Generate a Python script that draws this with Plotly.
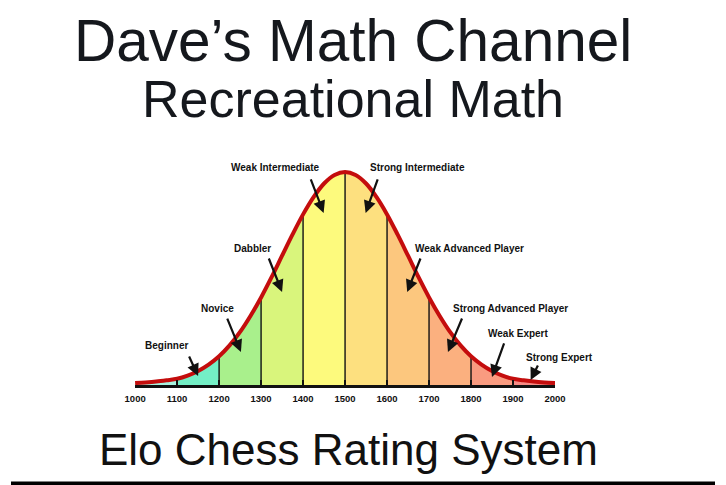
import plotly.graph_objects as go

# ---------------- data ----------------
rating = [1000, 1025, 1050, 1075, 1100, 1125, 1150, 1175, 1200, 1225, 1250, 1275, 1300,
          1325, 1350, 1375, 1400, 1425, 1450, 1475, 1500, 1525, 1550, 1575, 1600, 1625,
          1650, 1675, 1700, 1725, 1750, 1775, 1800, 1825, 1850, 1875, 1900, 1925, 1950,
          1975, 2000]
density = [0.9, 1.2, 1.6, 2.2, 2.9, 4.4, 6.6, 9.6, 13.5, 18.6, 24.9, 32.5, 41.1,
           50.6, 60.7, 70.7, 80.1, 88.2, 94.6, 98.6, 100.0, 98.6, 94.6, 88.2, 80.1, 70.7,
           60.7, 50.6, 41.1, 32.5, 24.9, 18.6, 13.5, 9.6, 6.6, 4.4, 2.9, 2.2, 1.6,
           1.2, 0.9]

band_edges = [1000, 1100, 1200, 1300, 1400, 1500, 1600, 1700, 1800, 1900, 2000]
band_colors = ["#a6f4e0", "#74efc6", "#a9f08c", "#d9f57c", "#fdfa7d", "#fde07f",
               "#fcc77e", "#fbb07f", "#f99b80", "#f68a84"]

labels = ["Beginner", "Novice", "Dabbler", "Weak Intermediate", "Strong Intermediate",
          "Weak Advanced Player", "Strong Advanced Player", "Weak Expert", "Strong Expert"]

tick_values = [1000, 1100, 1200, 1300, 1400, 1500, 1600, 1700, 1800, 1900, 2000]
tick_text = ["1000", "1100", "1200", "1300", "1400", "1500", "1600", "1700", "1800", "1900", "2000"]

title_lines = ["Dave\u2019s Math Channel", "Recreational Math"]
footer = "Elo Chess Rating System"

# ---------------- layout helpers (positions in pixels of the 726x485 canvas) ----------------
label_px = [(160, 345), (213, 308), (249, 249), (273, 167), (419, 167),
            (473, 249), (515, 308), (523, 333), (566, 357)]
arrow_tail = [(1127, 14.1), (1218, 31.9), (1317, 60.1), (1417, 97.2), (1579, 97.2),
              (1681, 60.1), (1780, 31.9), (1880, 20.2), (1961, 9.9)]
arrow_tip = [(1150, 4.2), (1252, 15.5), (1350, 43.7), (1449, 80.8), (1549, 80.8),
             (1648, 43.7), (1745, 15.5), (1850, 3.8), (1942, 2.3)]

W, H = 726, 485
FONT = "Liberation Sans, Arial, sans-serif"

fig = go.Figure()

# coloured bands under the curve
for i in range(len(band_edges) - 1):
    b0, b1 = band_edges[i], band_edges[i + 1]
    xs = [r for r in rating if b0 <= r <= b1]
    ys = [d for r, d in zip(rating, density) if b0 <= r <= b1]
    fig.add_trace(go.Scatter(
        x=[b0] + xs + [b1], y=[0] + ys + [0], mode="lines",
        fill="toself", fillcolor=band_colors[i], line=dict(width=0),
        hoverinfo="skip", showlegend=False))

# dividers
dx, dy = [], []
for b in band_edges[1:-1]:
    h = density[rating.index(b)]
    dx += [b, b, None]
    dy += [0, h, None]
fig.add_trace(go.Scatter(x=dx, y=dy, mode="lines",
                         line=dict(color="#111111", width=1.4),
                         hoverinfo="skip", showlegend=False))

# bell curve
fig.add_trace(go.Scatter(x=rating, y=density, mode="lines",
                         line=dict(color="#c40d0d", width=4, shape="spline"),
                         hoverinfo="skip", showlegend=False))

annotations = []
for txt, (px, py) in zip(labels, label_px):
    annotations.append(dict(x=px / W, y=1 - py / H, xref="paper", yref="paper",
                            text="<b>" + txt + "</b>",
                            showarrow=False, font=dict(family=FONT, size=10, color="#111111"),
                            xanchor="center", yanchor="middle"))
for (tx, ty), (hx, hy) in zip(arrow_tail, arrow_tip):
    annotations.append(dict(x=hx, y=hy, xref="x", yref="y", ax=tx, ay=ty,
                            axref="x", ayref="y", text="", showarrow=True,
                            arrowhead=2, arrowsize=1.1, arrowwidth=2.2,
                            arrowcolor="#111111", standoff=0))

annotations.append(dict(x=353 / W, y=1 - 40 / H, xref="paper", yref="paper",
                        text=title_lines[0], showarrow=False,
                        font=dict(family=FONT, size=58.5, color="#15181d"),
                        xanchor="center", yanchor="middle"))
annotations.append(dict(x=352.5 / W, y=1 - 99 / H, xref="paper", yref="paper",
                        text=title_lines[1], showarrow=False,
                        font=dict(family=FONT, size=52, color="#15181d"),
                        xanchor="center", yanchor="middle"))
annotations.append(dict(x=348 / W, y=1 - 449 / H, xref="paper", yref="paper",
                        text=footer, showarrow=False,
                        font=dict(family=FONT, size=44, color="#111111"),
                        xanchor="center", yanchor="middle"))

y_top = 180.75
fig.update_layout(
    width=W, height=H, margin=dict(l=0, r=0, t=0, b=0),
    paper_bgcolor="white", plot_bgcolor="white", showlegend=False,
    xaxis=dict(domain=[128 / W, 561 / W], range=[1000, 2000],
               tickvals=tick_values, ticktext=["<b>" + t + "</b>" for t in tick_text],
               tickfont=dict(family=FONT, size=9.5, color="#111111"),
               showgrid=False, zeroline=False, showline=True,
               linecolor="#111111", linewidth=2.5,
               ticks="inside", ticklen=5, tickwidth=1.5, tickcolor="#111111",
               ticklabelstandoff=3, fixedrange=True),
    yaxis=dict(domain=[100 / H, 1], range=[0, y_top], visible=False, fixedrange=True),
    annotations=annotations,
    shapes=[dict(type="rect", xref="paper", yref="paper", x0=0, x1=1, y0=0, y1=3.5 / H,
                 fillcolor="#000000", line=dict(width=0))],
)

fig.write_html("out.html")
